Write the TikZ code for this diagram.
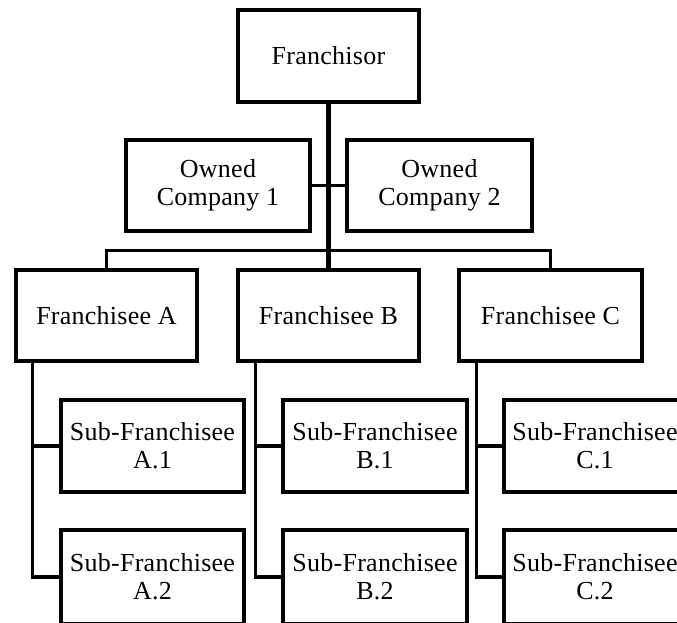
\documentclass[tikz,border=0pt]{standalone}
\usepackage{fontspec}
\setmainfont{Liberation Serif}[LetterSpace=1]
\begin{document}
\begin{tikzpicture}[x=1pt,y=-1pt,
  box/.style={draw, line width=3.5pt, inner sep=0pt, align=center,
    minimum height=92pt, font=\fontsize{26}{28}\selectfont},
  conn/.style={line width=3.5pt},
  trunk/.style={line width=5pt}]
\useasboundingbox (0,0) rectangle (677,622);
\clip (0,0) rectangle (677,622);
% nodes
\node[box, minimum width=181pt] (fr) at (328.5,56) {Franchisor};
\node[box, minimum width=184pt, minimum height=91pt] (oc1) at (218,185.5) {Owned\\Company 1};
\node[box, minimum width=185pt, minimum height=91pt] (oc2) at (439.5,185.5) {Owned\\Company 2};
\node[box, minimum width=181pt, minimum height=91pt] (fA) at (106.5,315.5) {Franchisee A};
\node[box, minimum width=181pt, minimum height=91pt] (fB) at (328.5,315.5) {Franchisee B};
\node[box, minimum width=183pt, minimum height=91pt] (fC) at (550.5,315.5) {Franchisee C};
\node[box, minimum width=183pt] (a1) at (152.5,446) {Sub-Franchisee\\A.1};
\node[box, minimum width=183pt, minimum height=94pt] (a2) at (152.5,577) {Sub-Franchisee\\A.2};
\node[box, minimum width=184pt] (b1) at (375,446) {Sub-Franchisee\\B.1};
\node[box, minimum width=184pt, minimum height=94pt] (b2) at (375,577) {Sub-Franchisee\\B.2};
\node[box, minimum width=182pt] (c1) at (595,446) {Sub-Franchisee\\C.1};
\node[box, minimum width=182pt, minimum height=94pt] (c2) at (595,577) {Sub-Franchisee\\C.2};
% connectors
\draw[trunk] (fr.south) -- (fB.north);
\draw[conn] (oc1.east) -- (oc2.west);
\draw[conn] (fA.north) -- ++(0,-18) -| (fC.north);
\coordinate (av) at ([xshift=18pt]fA.south west);
\coordinate (bv) at ([xshift=19pt]fB.south west);
\coordinate (cv) at ([xshift=19pt]fC.south west);
\draw[conn] (av) |- (a1.west);
\draw[conn] (av) |- (a2.west);
\draw[conn] (bv) |- (b1.west);
\draw[conn] (bv) |- (b2.west);
\draw[conn] (cv) |- (c1.west);
\draw[conn] (cv) |- (c2.west);
\end{tikzpicture}
\end{document}
